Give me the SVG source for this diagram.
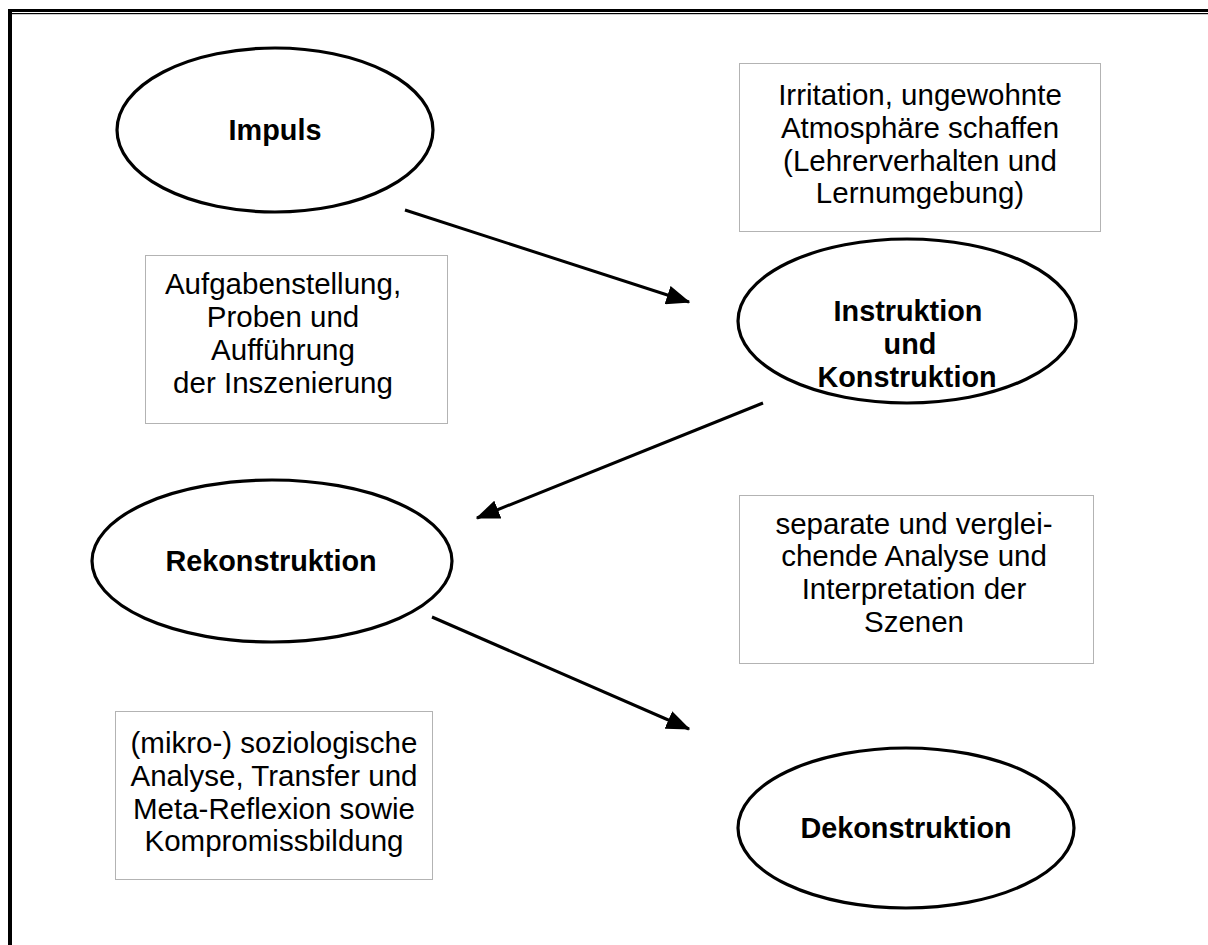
<svg xmlns="http://www.w3.org/2000/svg" width="1208" height="945" viewBox="0 0 1208 945">
<style>
.ell{fill:#fff;stroke:#000;stroke-width:3.2}
.box{fill:#fff;stroke:#666;stroke-width:1;stroke-dasharray:1 1}
.t{font-family:"Liberation Sans",Arial,sans-serif;font-size:29.5px;fill:#000;text-anchor:middle}
.b{font-weight:bold;font-size:28.8px}
.con{stroke:#000;stroke-width:3;fill:none}
</style>
<defs>
<marker id="ah" markerWidth="8" markerHeight="6.4" refX="7.5" refY="3.2" orient="auto" markerUnits="strokeWidth">
<path d="M0,0 L8,3.2 L0,6.4 Z" fill="#000"/>
</marker>
</defs>
<rect width="1208" height="945" fill="#fff"/>
<g id="frame">
<rect x="8" y="9" width="1200" height="3" fill="#000"/>
<rect x="12" y="13" width="1196" height="1.2" fill="#000"/>
<rect x="8" y="9" width="4" height="936" fill="#000"/>
</g>
<g id="box-irritation">
<rect class="box" x="739.5" y="63.5" width="361" height="168"/>
<text class="t" x="920" y="105">Irritation, ungewohnte</text>
<text class="t" x="920" y="138">Atmosphäre schaffen</text>
<text class="t" x="920" y="171">(Lehrerverhalten und</text>
<text class="t" x="920" y="203">Lernumgebung)</text>
</g>
<g id="box-aufgaben">
<rect class="box" x="145.5" y="255.5" width="302" height="168"/>
<text class="t" x="283" y="294">Aufgabenstellung,</text>
<text class="t" x="283" y="327">Proben und</text>
<text class="t" x="283" y="360">Aufführung</text>
<text class="t" x="283" y="393">der Inszenierung</text>
</g>
<g id="box-separate">
<rect class="box" x="739.5" y="495.5" width="354" height="168"/>
<text class="t" x="914" y="534">separate und verglei-</text>
<text class="t" x="914" y="566">chende Analyse und</text>
<text class="t" x="914" y="599">Interpretation der</text>
<text class="t" x="914" y="632">Szenen</text>
</g>
<g id="box-mikro">
<rect class="box" x="115.5" y="711.5" width="317" height="168"/>
<text class="t" x="274" y="753">(mikro-) soziologische</text>
<text class="t" x="274" y="786">Analyse, Transfer und</text>
<text class="t" x="274" y="819">Meta-Reflexion sowie</text>
<text class="t" x="274" y="851">Kompromissbildung</text>
</g>
<g id="node-impuls">
<ellipse class="ell" cx="275" cy="130" rx="158" ry="82"/>
<text class="t b" x="275" y="140">Impuls</text>
</g>
<g id="node-instruktion">
<ellipse class="ell" cx="907" cy="321" rx="169" ry="82"/>
<text class="t b" x="908" y="321">Instruktion</text>
<text class="t b" x="910" y="354">und</text>
<text class="t b" x="907" y="387">Konstruktion</text>
</g>
<g id="node-rekonstruktion">
<ellipse class="ell" cx="272" cy="561" rx="180" ry="81"/>
<text class="t b" x="271" y="571">Rekonstruktion</text>
</g>
<g id="node-dekonstruktion">
<ellipse class="ell" cx="906" cy="828" rx="168" ry="80"/>
<text class="t b" x="906" y="838">Dekonstruktion</text>
</g>
<g id="connectors">
<line class="con" x1="405" y1="210" x2="689" y2="302" marker-end="url(#ah)"/>
<line class="con" x1="763" y1="403" x2="477" y2="518" marker-end="url(#ah)"/>
<line class="con" x1="432" y1="617" x2="689" y2="729" marker-end="url(#ah)"/>
</g>
</svg>
